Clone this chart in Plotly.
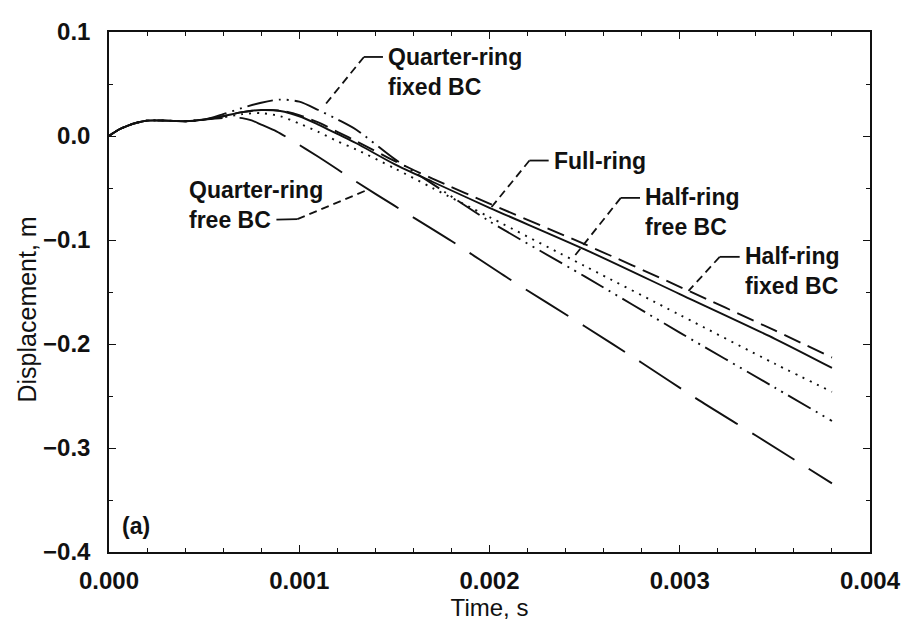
import plotly.graph_objects as go

# ---------------- data ----------------
t_full = [0, 0.00005, 0.0001, 0.00015, 0.0002, 0.0003, 0.0004, 0.0005, 0.0006, 0.0007, 0.0008,
          0.0009, 0.001, 0.0011, 0.0012, 0.0013, 0.0015, 0.0017, 0.002, 0.0025, 0.003, 0.0035, 0.0038]
y_full = [0, 0.006, 0.010, 0.013, 0.0148, 0.0148, 0.0142, 0.0158, 0.019, 0.023, 0.025,
          0.024, 0.019, 0.011, 0.002, -0.007, -0.027, -0.044, -0.069, -0.109, -0.152, -0.195, -0.223]

t_half_fixed = t_full
y_half_fixed = [0, 0.006, 0.010, 0.013, 0.0148, 0.0148, 0.0142, 0.0158, 0.019, 0.023, 0.025,
                0.0245, 0.020, 0.013, 0.004, -0.005, -0.024, -0.041, -0.065, -0.104, -0.145, -0.187, -0.213]

t_half_free = t_full
y_half_free = [0, 0.006, 0.010, 0.013, 0.0148, 0.0148, 0.0142, 0.0158, 0.018, 0.021, 0.022,
               0.019, 0.012, 0.004, -0.005, -0.013, -0.031, -0.050, -0.078, -0.125, -0.172, -0.219, -0.246]

t_quarter_fixed = t_full
y_quarter_fixed = [0, 0.006, 0.010, 0.013, 0.0148, 0.0148, 0.0142, 0.0158, 0.021, 0.027, 0.032,
                   0.035, 0.033, 0.025, 0.016, 0.006, -0.022, -0.046, -0.082, -0.135, -0.189, -0.242, -0.274]

t_quarter_free = [0, 0.00005, 0.0001, 0.00015, 0.0002, 0.0003, 0.0004, 0.0005, 0.0006, 0.00065, 0.0007,
                  0.00075, 0.0008, 0.00088, 0.00095, 0.0011, 0.0013, 0.0015, 0.0018, 0.0021, 0.0025,
                  0.0028, 0.0031, 0.0034, 0.0038]
y_quarter_free = [0, 0.006, 0.010, 0.013, 0.0148, 0.0148, 0.0142, 0.0158, 0.0172, 0.0176, 0.0172,
                  0.015, 0.011, 0.0045, -0.003, -0.020, -0.044, -0.067, -0.101, -0.137, -0.183,
                  -0.218, -0.254, -0.288, -0.334]

x_ticks = [0.000, 0.001, 0.002, 0.003, 0.004]
x_tick_text = ["0.000", "0.001", "0.002", "0.003", "0.004"]
y_ticks = [0.1, 0.0, -0.1, -0.2, -0.3, -0.4]
y_tick_text = ["0.1", "0.0", "\u22120.1", "\u22120.2", "\u22120.3", "\u22120.4"]

labels = ["Quarter-ring<br>fixed BC", "Full-ring", "Half-ring<br>free BC",
          "Half-ring<br>fixed BC", "Quarter-ring<br>free BC"]

# ---------------- layout of labels and leaders (data coords) ----------------
label_pos = [(0.001455, 0.062), (0.002326, -0.0236), (0.002806, -0.0735),
             (0.00333, -0.130), (0.000412, -0.0667)]
# leader polylines: [tail start, knee, end on curve]
leaders = [
    [(0.001440, 0.076), (0.00134, 0.076), (0.00114, 0.031)],
    [(0.002311, -0.0236), (0.00221, -0.0236), (0.00201, -0.0685)],
    [(0.002791, -0.0595), (0.00269, -0.0595), (0.00244, -0.117)],
    [(0.003315, -0.1162), (0.00321, -0.1162), (0.003046, -0.149)],
    [(0.000880, -0.0805), (0.00099, -0.0800), (0.00136, -0.0517)],
]

FONT = "Liberation Sans, Arial, Helvetica, sans-serif"
BLACK = "#111111"

fig = go.Figure()
series = [
    (t_full, y_full, "solid"),
    (t_half_fixed, y_half_fixed, "18px,8px"),
    (t_half_free, y_half_free, "2px,6px"),
    (t_quarter_fixed, y_quarter_fixed, "26px,6px,2px,6px,2px,6px"),
    (t_quarter_free, y_quarter_free, "50px,17px"),
]
for tx, ty, dash in series:
    fig.add_trace(go.Scatter(x=tx, y=ty, mode="lines",
                             line=dict(color=BLACK, width=1.9, dash=dash, shape="spline", smoothing=0.8),
                             showlegend=False, hoverinfo="skip"))

shapes = []
for pts in leaders:
    (x0, y0), (x1, y1), (x2, y2) = pts
    shapes.append(dict(type="line", xref="x", yref="y", x0=x0, y0=y0, x1=x1, y1=y1,
                       line=dict(color=BLACK, width=1.8)))
    shapes.append(dict(type="line", xref="x", yref="y", x0=x1, y0=y1, x1=x2, y1=y2,
                       line=dict(color=BLACK, width=1.8, dash="8px,5px")))

annotations = []
for text, (ax, ay) in zip(labels, label_pos):
    annotations.append(dict(x=ax, y=ay, xref="x", yref="y", text=text, showarrow=False,
                            xanchor="left", yanchor="middle", align="left",
                            font=dict(family=FONT, size=23, color=BLACK, weight="bold")))
annotations.append(dict(x=0.00006, y=-0.375, xref="x", yref="y", text="(a)", showarrow=False,
                        xanchor="left", yanchor="middle",
                        font=dict(family=FONT, size=23, color=BLACK, weight="bold")))
# y-axis title (placed slightly below the plot centre, as in the original)
annotations.append(dict(x=-0.108, y=-0.167, xref="paper", yref="y", text="Displacement, m",
                        showarrow=False, textangle=-90, xanchor="center", yanchor="middle",
                        font=dict(family=FONT, size=25, color=BLACK)))

axis_common = dict(showline=True, linecolor=BLACK, linewidth=1.5, mirror="ticks",
                   ticks="inside", ticklen=7, tickwidth=1.3, tickcolor=BLACK,
                   showgrid=False, zeroline=False, ticklabeloverflow="allow",
                   tickfont=dict(family=FONT, size=24, color=BLACK, weight="bold"))

# the page body has an 8px margin, so the figure is sized to fit inside 911x622
fig.update_layout(
    width=903, height=614,
    margin=dict(l=101, r=35, t=10, b=70),
    paper_bgcolor="white", plot_bgcolor="white",
    shapes=shapes, annotations=annotations,
    xaxis=dict(range=[0, 0.004], tickvals=x_ticks, ticktext=x_tick_text,
               minor=dict(dtick=0.0002, ticks="inside", ticklen=4, tickcolor=BLACK, tickwidth=1),
               ticklabelstandoff=6,
               title=dict(text="Time, s", font=dict(family=FONT, size=24, color=BLACK), standoff=2),
               **axis_common),
    yaxis=dict(range=[-0.4, 0.1], tickvals=y_ticks, ticktext=y_tick_text,
               minor=dict(dtick=0.05, ticks="inside", ticklen=4, tickcolor=BLACK, tickwidth=1),
               ticklabelstandoff=12,
               **axis_common),
)

fig.write_html("out.html")
